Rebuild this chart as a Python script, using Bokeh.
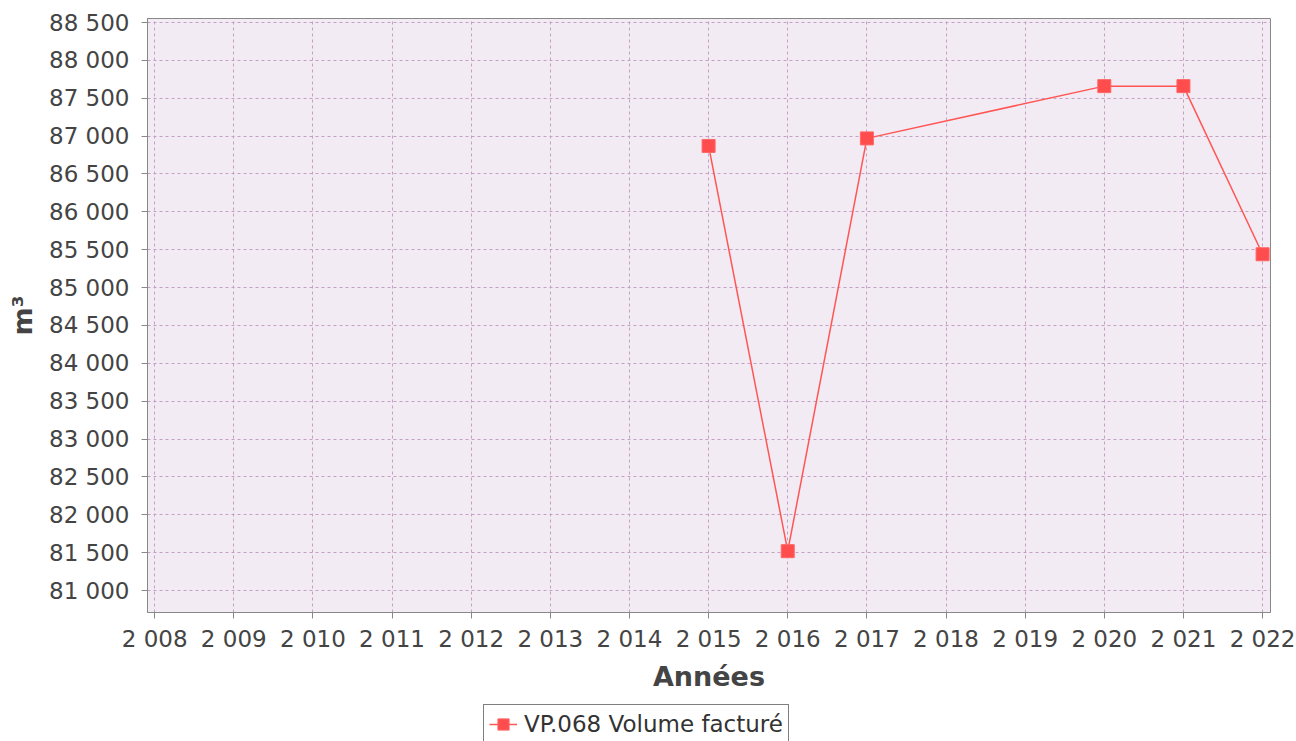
from bokeh.plotting import figure
from bokeh.layouts import column
from bokeh.models import ColumnDataSource, FixedTicker, Range1d, Legend, LegendItem
from bokeh.embed import file_html
from bokeh.resources import INLINE

years = [2015, 2016, 2017, 2020, 2021, 2022]
volumes = [86870, 81520, 86970, 87660, 87660, 85440]
x_ticks = list(range(2008, 2023))
y_ticks = list(range(81000, 88501, 500))
series_name = "VP.068 Volume facturé"

def fmt(v):
    return f"{v:,}".replace(",", " ")

src = ColumnDataSource(dict(x=years, y=volumes))

LINE_COLOR = "#FF5555"
FILL_COLOR = "#FF4C4C"
EDGE_COLOR = "#FF6666"

p = figure(width=1296, height=700, output_backend="svg", toolbar_location=None,
           x_range=Range1d(2007.91, 2022.1), y_range=Range1d(80710, 88553),
           min_border_left=147, min_border_right=26, min_border_top=18, min_border_bottom=88)

p.background_fill_color = "#F3EBF3"
p.border_fill_color = "white"
p.outline_line_color = "#888888"
p.outline_line_width = 1

p.line("x", "y", source=src, line_color=LINE_COLOR, line_width=1.5)
p.scatter("x", "y", source=src, marker="square", size=13,
          fill_color=FILL_COLOR, line_color=EDGE_COLOR)

p.xaxis.ticker = FixedTicker(ticks=x_ticks)
p.xaxis.major_label_overrides = {t: fmt(t) for t in x_ticks}
p.yaxis.ticker = FixedTicker(ticks=y_ticks)
p.yaxis.major_label_overrides = {t: fmt(t) for t in y_ticks}

for ax in (p.xaxis, p.yaxis):
    ax.axis_line_color = "#888888"
    ax.major_tick_line_color = "#888888"
    ax.major_tick_in = 0
    ax.major_tick_out = 6
    ax.minor_tick_line_color = None
    ax.major_label_text_font = "DejaVu Sans"
    ax.major_label_text_font_size = "23px"
    ax.major_label_text_color = "#444444"
    ax.axis_label_text_font = "DejaVu Sans"
    ax.axis_label_text_font_size = "27px"
    ax.axis_label_text_font_style = "bold"
    ax.axis_label_text_color = "#444444"

p.xaxis.axis_label = "Années"
p.yaxis.axis_label = "m³"
p.xaxis.major_label_standoff = 7
p.yaxis.major_label_standoff = 12
p.xaxis.axis_label_standoff = 6
p.yaxis.axis_label_standoff = 8

for g in (p.xgrid, p.ygrid):
    g.grid_line_color = "#C5A0C5"
    g.grid_line_dash = "3 3"
    g.grid_line_width = 1
p.xgrid.ticker = FixedTicker(ticks=x_ticks)
p.ygrid.ticker = FixedTicker(ticks=y_ticks)

# Legend strip below the chart (glyphs kept outside its view, only the legend shows)
q = figure(width=1296, height=41, output_backend="svg", toolbar_location=None,
           x_range=Range1d(0, 1), y_range=Range1d(0, 1),
           x_axis_type=None, y_axis_type=None,
           min_border_left=0, min_border_right=0, min_border_top=0, min_border_bottom=0)
q.outline_line_color = None
q.xgrid.visible = False
q.ygrid.visible = False
q.background_fill_color = "white"
q_line = q.line("x", "y", source=src, line_color=LINE_COLOR, line_width=1.5)
q_pts = q.scatter("x", "y", source=src, marker="square", size=13,
                  fill_color=FILL_COLOR, line_color=EDGE_COLOR)

legend = Legend(items=[LegendItem(label=series_name, renderers=[q_line, q_pts])],
                location=(336, -3), orientation="horizontal",
                border_line_color="black", border_line_width=1.5,
                background_fill_color="white", background_fill_alpha=1,
                label_text_font="DejaVu Sans", label_text_font_size="23px",
                label_text_color="#333333", padding=5, margin=0,
                glyph_width=28, glyph_height=28, spacing=2, label_standoff=7)
q.add_layout(legend, "center")

layout = column(p, q, spacing=0)
open("out.html", "w").write(file_html(layout, INLINE))
